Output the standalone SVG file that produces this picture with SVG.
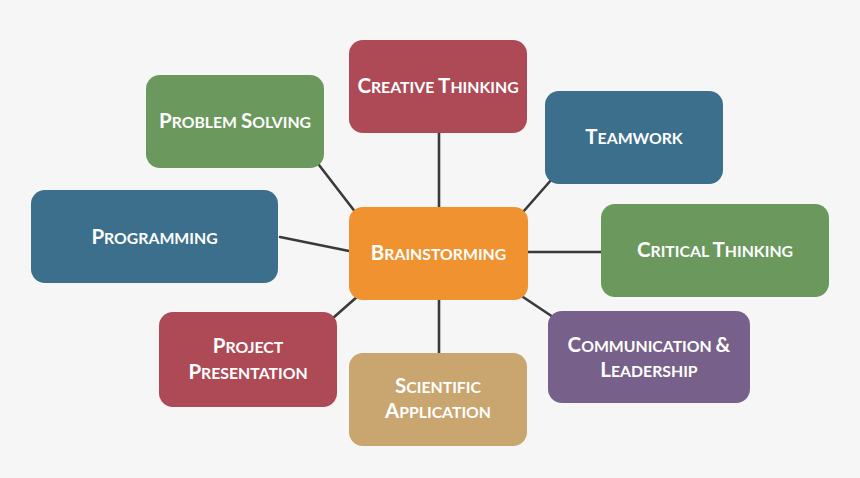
<svg xmlns="http://www.w3.org/2000/svg" width="860" height="478" viewBox="0 0 860 478">
<style>
.bg{fill:#f6f6f6}
.box{rx:14px;ry:14px}
.red{fill:#ad4a56}
.green{fill:#6a985d}
.blue{fill:#3c6f8c}
.orange{fill:#f0922f}
.tan{fill:#c9a570}
.purple{fill:#77618a}
text{font-family:Lato,"Open Sans","Liberation Sans",sans-serif;font-weight:bold;fill:#ffffff;text-anchor:middle;font-size:15.8px}
.c{font-size:20.5px}
.conn line{stroke:#3a3a3a;stroke-width:2.6;stroke-linecap:round}
</style>
<rect class="bg" x="0" y="0" width="860" height="478"/>
<g id="connectors" class="conn">
<line x1="439" y1="133" x2="439" y2="207"/>
<line x1="319" y1="165" x2="356" y2="213"/>
<line x1="552" y1="179" x2="523" y2="212"/>
<line x1="280" y1="237" x2="349" y2="251"/>
<line x1="528" y1="252" x2="601" y2="252"/>
<line x1="333" y1="318" x2="358" y2="296"/>
<line x1="439" y1="300" x2="439" y2="353"/>
<line x1="523" y1="297" x2="553" y2="317"/>
</g>
<g id="creative-thinking">
<rect class="box red" x="349" y="40" width="178" height="93"/>
<text x="438" y="93"><tspan class="c">C</tspan>REATIVE <tspan class="c">T</tspan>HINKING</text>
</g>
<g id="problem-solving">
<rect class="box green" x="146" y="75" width="178" height="93"/>
<text x="235" y="128"><tspan class="c">P</tspan>ROBLEM <tspan class="c">S</tspan>OLVING</text>
</g>
<g id="teamwork">
<rect class="box blue" x="545" y="91" width="178" height="93"/>
<text x="634" y="144"><tspan class="c">T</tspan>EAMWORK</text>
</g>
<g id="programming">
<rect class="box blue" x="31" y="190" width="247" height="93"/>
<text x="154.5" y="243.5"><tspan class="c">P</tspan>ROGRAMMING</text>
</g>
<g id="brainstorming">
<rect class="box orange" x="349" y="207" width="179" height="93"/>
<text x="438.5" y="260"><tspan class="c">B</tspan>RAINSTORMING</text>
</g>
<g id="critical-thinking">
<rect class="box green" x="601" y="204" width="228" height="93"/>
<text x="715" y="257"><tspan class="c">C</tspan>RITICAL <tspan class="c">T</tspan>HINKING</text>
</g>
<g id="project-presentation">
<rect class="box red" x="159" y="312" width="178" height="95"/>
<text x="248" y="353"><tspan class="c">P</tspan>ROJECT</text>
<text x="248" y="379"><tspan class="c">P</tspan>RESENTATION</text>
</g>
<g id="scientific-application">
<rect class="box tan" x="349" y="353" width="178" height="93"/>
<text x="438" y="393"><tspan class="c">S</tspan>CIENTIFIC</text>
<text x="438" y="418"><tspan class="c">A</tspan>PPLICATION</text>
</g>
<g id="communication-leadership">
<rect class="box purple" x="548" y="311" width="202" height="92"/>
<text x="649" y="352"><tspan class="c">C</tspan>OMMUNICATION <tspan class="c">&amp;</tspan></text>
<text x="649" y="377"><tspan class="c">L</tspan>EADERSHIP</text>
</g>
</svg>
